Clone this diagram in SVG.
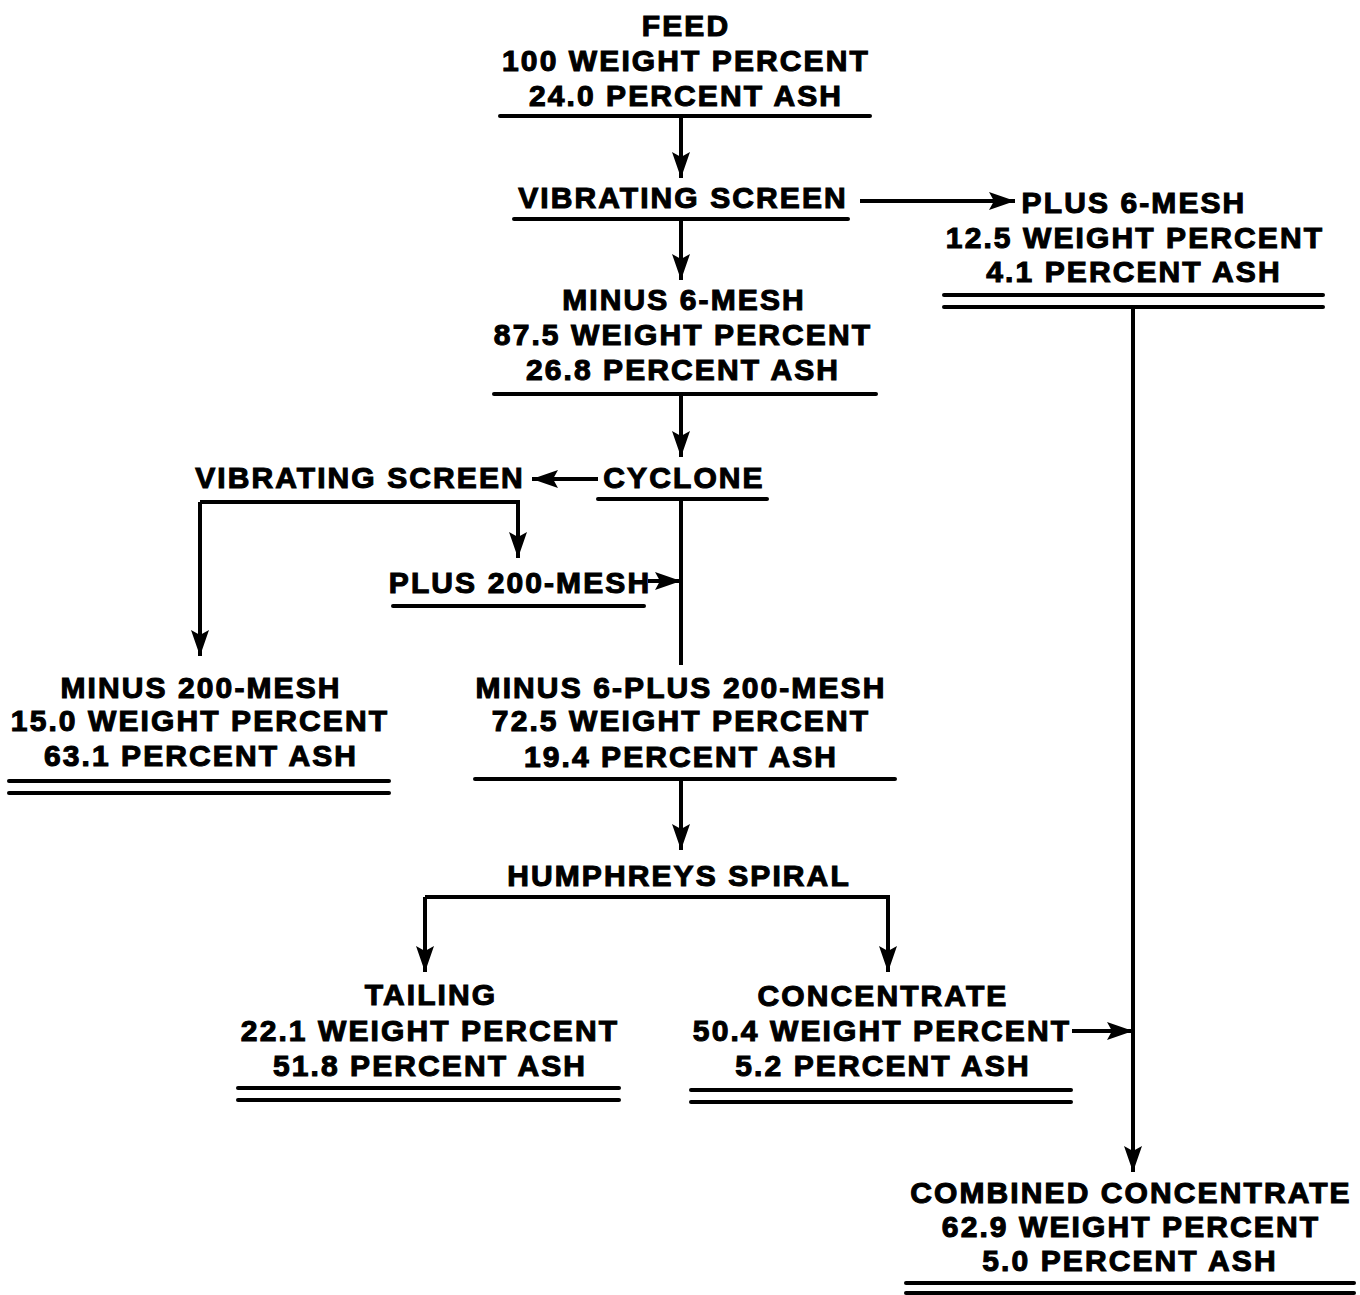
<svg xmlns="http://www.w3.org/2000/svg" width="1360" height="1295" viewBox="0 0 1360 1295">
<style>
.t{font-family:"Liberation Sans",Arial,sans-serif;font-weight:bold;font-size:30px;letter-spacing:2.1px;text-anchor:middle;fill:#000;stroke:#000;stroke-width:1.1px}
.u{stroke:#000;stroke-width:4;stroke-linecap:round;fill:none}
.c{stroke:#000;stroke-width:4;fill:none}
.a{marker-end:url(#ah)}
</style>
<defs>
<marker id="ah" markerUnits="userSpaceOnUse" markerWidth="28" markerHeight="22" refX="26" refY="11" orient="auto">
<path d="M0,2 L26,11 L0,20 L5,11 z" fill="#000"/>
</marker>
</defs>
<rect width="1360" height="1295" fill="#fff"/>

<g id="feed">
<text class="t" x="686" y="36">FEED</text>
<text class="t" x="686" y="71">100 WEIGHT PERCENT</text>
<text class="t" x="686" y="106">24.0 PERCENT ASH</text>
<line class="u" x1="500" y1="116" x2="870" y2="116"/>
</g>
<g id="vibrating-screen-1">
<text class="t" x="683" y="208">VIBRATING SCREEN</text>
<line class="u" x1="514" y1="219" x2="848" y2="219"/>
</g>
<g id="plus-6-mesh">
<text class="t" x="1134" y="213">PLUS 6-MESH</text>
<text class="t" x="1135" y="248">12.5 WEIGHT PERCENT</text>
<text class="t" x="1134" y="282">4.1 PERCENT ASH</text>
<line class="u" x1="944" y1="295" x2="1323" y2="295"/>
<line class="u" x1="944" y1="307" x2="1323" y2="307"/>
</g>
<g id="minus-6-mesh">
<text class="t" x="684" y="310">MINUS 6-MESH</text>
<text class="t" x="683" y="345">87.5 WEIGHT PERCENT</text>
<text class="t" x="683" y="380">26.8 PERCENT ASH</text>
<line class="u" x1="494" y1="394" x2="876" y2="394"/>
</g>
<g id="cyclone">
<text class="t" x="684" y="488">CYCLONE</text>
<line class="u" x1="598" y1="499" x2="767" y2="499"/>
</g>
<g id="vibrating-screen-2">
<text class="t" x="360" y="488">VIBRATING SCREEN</text>
</g>
<g id="plus-200-mesh">
<text class="t" x="520" y="593">PLUS 200-MESH</text>
<line class="u" x1="393" y1="606" x2="644" y2="606"/>
</g>
<g id="minus-200-mesh">
<text class="t" x="201" y="698">MINUS 200-MESH</text>
<text class="t" x="200" y="731">15.0 WEIGHT PERCENT</text>
<text class="t" x="201" y="766">63.1 PERCENT ASH</text>
<line class="u" x1="9" y1="781" x2="389" y2="781"/>
<line class="u" x1="9" y1="793" x2="389" y2="793"/>
</g>
<g id="minus-6-plus-200-mesh">
<text class="t" x="681" y="698">MINUS 6-PLUS 200-MESH</text>
<text class="t" x="681" y="731">72.5 WEIGHT PERCENT</text>
<text class="t" x="681" y="767">19.4 PERCENT ASH</text>
<line class="u" x1="475" y1="779" x2="895" y2="779"/>
</g>
<g id="humphreys-spiral">
<text class="t" x="679" y="886">HUMPHREYS SPIRAL</text>
</g>
<g id="tailing">
<text class="t" x="431" y="1005">TAILING</text>
<text class="t" x="430" y="1041">22.1 WEIGHT PERCENT</text>
<text class="t" x="430" y="1076">51.8 PERCENT ASH</text>
<line class="u" x1="238" y1="1088" x2="619" y2="1088"/>
<line class="u" x1="238" y1="1100" x2="619" y2="1100"/>
</g>
<g id="concentrate">
<text class="t" x="883" y="1006">CONCENTRATE</text>
<text class="t" x="882" y="1041">50.4 WEIGHT PERCENT</text>
<text class="t" x="883" y="1076">5.2 PERCENT ASH</text>
<line class="u" x1="691" y1="1090" x2="1071" y2="1090"/>
<line class="u" x1="691" y1="1102" x2="1071" y2="1102"/>
</g>
<g id="combined-concentrate">
<text class="t" x="1131" y="1203">COMBINED CONCENTRATE</text>
<text class="t" x="1131" y="1237">62.9 WEIGHT PERCENT</text>
<text class="t" x="1130" y="1271">5.0 PERCENT ASH</text>
<line class="u" x1="906" y1="1283" x2="1354" y2="1283"/>
<line class="u" x1="906" y1="1293" x2="1354" y2="1293"/>
</g>

<g id="connectors">
<line class="c a" x1="681" y1="116" x2="681" y2="178"/>
<line class="c a" x1="681" y1="219" x2="681" y2="280"/>
<line class="c a" x1="860" y1="201" x2="1015" y2="201"/>
<line class="c a" x1="681" y1="394" x2="681" y2="457"/>
<line class="c a" x1="598" y1="479" x2="532" y2="479"/>
<line class="c" x1="681" y1="499" x2="681" y2="665"/>
<polyline class="c a" points="200,502 518,502 518,558"/>
<line class="c a" x1="200" y1="502" x2="200" y2="656"/>
<line class="c a" x1="648" y1="581" x2="681" y2="581"/>
<line class="c a" x1="681" y1="779" x2="681" y2="850"/>
<polyline class="c a" points="425,897 888,897 888,972"/>
<line class="c a" x1="425" y1="897" x2="425" y2="972"/>
<line class="c a" x1="1133" y1="307" x2="1133" y2="1172"/>
<line class="c a" x1="1072" y1="1031" x2="1133" y2="1031"/>
</g>
</svg>
